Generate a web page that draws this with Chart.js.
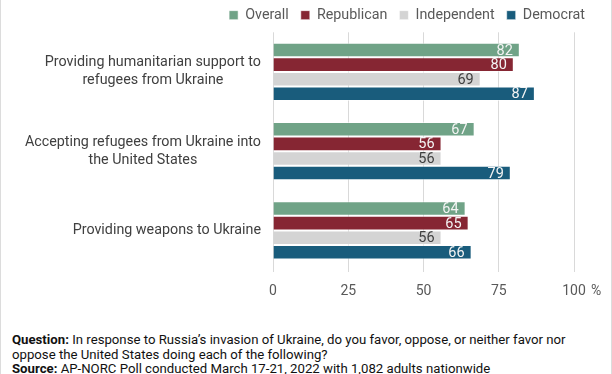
<!DOCTYPE html>
<html>
<head>
<meta charset="utf-8">
<script src="https://cdn.jsdelivr.net/npm/chart.js@4.4.0/dist/chart.umd.min.js"></script>
<style>
    body { margin: 0; background: #fff; font-family: Roboto, sans-serif; }
    #wrap { position: relative; width: 612px; height: 374px; overflow: hidden; }
    #chartBox { position: absolute; left: 0; top: -4px; width: 612px; height: 316px; }
    .edge { position: absolute; top: 0; width: 1px; height: 374px; background: #dcdcdc; }
    #footer {
        position: absolute; left: 12px; top: 333px; width: 575px;
        font-family: Roboto; font-size: 13.2px; line-height: 14.5px; color: #111;
    }
</style>
</head>
<body>
<div id="wrap">
    <div id="chartBox"><canvas id="pollChart"></canvas></div>
    <div class="edge" style="left:0"></div>
    <div class="edge" style="left:611px"></div>
    <div id="footer">
        <b>Question:</b> In response to Russia’s invasion of Ukraine, do you favor, oppose, or neither favor nor
        oppose the United States doing each of the following?<br>
        <b>Source:</b> AP-NORC Poll conducted March 17-21, 2022 with 1,082 adults nationwide
    </div>
</div>

<script>
// Chart data
const categories = [
    ['Providing humanitarian support to', 'refugees from Ukraine'],
    ['Accepting refugees from Ukraine into', 'the United States'],
    ['Providing weapons to Ukraine']
];
const seriesNames = ['Overall', 'Republican', 'Independent', 'Democrat'];
const overall = [82, 67, 64];
const republican = [80, 56, 65];
const independent = [69, 56, 56];
const democrat = [87, 79, 66];
const xTicks = [0, 25, 50, 75, 100];

const seriesColors = ['#70a387', '#862633', '#d4d4d4', '#195c7c'];
const labelColors = ['#f4f4f4', '#f4f4f4', '#404040', '#f4f4f4'];

// Category labels on the left: lines centred, block right-aligned
const categoryLabels = {
    id: 'categoryLabels',
    afterDraw(chart) {
        const ctx = chart.ctx;
        const yScale = chart.scales.y;
        const right = 261;
        ctx.save();
        ctx.font = '14.3px Roboto';
        ctx.fillStyle = '#404040';
        ctx.textAlign = 'center';
        ctx.textBaseline = 'middle';
        categories.forEach((lines, i) => {
            const maxW = Math.max(...lines.map(l => ctx.measureText(l).width));
            const cx = right - maxW / 2;
            const cy = yScale.getPixelForValue(i);
            const lh = 18;
            lines.forEach((line, j) => {
                ctx.fillText(line, cx, cy + (j - (lines.length - 1) / 2) * lh);
            });
        });
        // percent sign after the last tick, on the tick label line
        const xScale = chart.scales.x;
        ctx.font = '14px Roboto';
        ctx.fillStyle = '#595959';
        ctx.textAlign = 'left';
        ctx.fillText('%', xScale.getPixelForValue(100) + 17, xScale.bottom - 21);
        ctx.restore();
    }
};

// Value labels at the inner end of each bar
const valueLabels = {
    id: 'valueLabels',
    afterDatasetsDraw(chart) {
        const ctx = chart.ctx;
        ctx.save();
        ctx.font = '14.5px Roboto';
        ctx.textAlign = 'right';
        ctx.textBaseline = 'middle';
        chart.data.datasets.forEach((ds, di) => {
            const meta = chart.getDatasetMeta(di);
            ctx.fillStyle = labelColors[di];
            meta.data.forEach((bar, i) => {
                ctx.fillText(ds.data[i], bar.x - 7, bar.y + 1);
            });
        });
        ctx.restore();
    }
};

const datasets = [overall, republican, independent, democrat].map((values, i) => ({
    label: seriesNames[i],
    data: values,
    backgroundColor: seriesColors[i],
    borderColor: 'rgba(255,255,255,0.55)',
    borderWidth: 1,
    categoryPercentage: 0.735,
    barPercentage: 1.0
}));

new Chart(document.getElementById('pollChart'), {
    type: 'bar',
    data: { labels: categories.map(c => c.join(' ')), datasets: datasets },
    options: {
        indexAxis: 'y',
        responsive: true,
        maintainAspectRatio: false,
        animation: false,
        layout: { padding: { left: 0, right: 15, top: 0, bottom: 0 } },
        plugins: {
            legend: {
                position: 'top',
                align: 'end',
                labels: {
                    boxWidth: 9,
                    boxHeight: 9,
                    padding: 12,
                    color: '#595959',
                    font: { family: 'Roboto', size: 14.3 }
                }
            },
            tooltip: { enabled: false }
        },
        scales: {
            x: {
                min: 0,
                max: 100,
                afterBuildTicks: s => { s.ticks = xTicks.map(v => ({ value: v })); },
                afterFit: s => { s.height = 42; },
                grid: { color: '#d9d9d9', tickLength: 2, drawTicks: true },
                border: { display: false },
                ticks: {
                    color: '#595959',
                    padding: 11,
                    font: { family: 'Roboto', size: 14 }
                }
            },
            y: {
                grid: { display: false },
                border: { display: false },
                ticks: { display: false },
                afterFit: s => { s.width = 273; }
            },
            yRight: {
                type: 'linear',
                position: 'right',
                display: true,
                grid: { display: false },
                border: { display: false },
                ticks: { display: false },
                afterFit: s => { s.width = 23; }
            }
        }
    },
    plugins: [categoryLabels, valueLabels]
});
</script>
</body>
</html>
